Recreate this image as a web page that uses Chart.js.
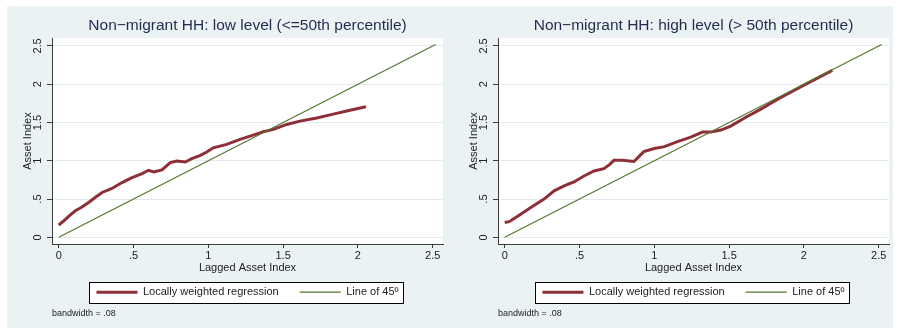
<!DOCTYPE html>
<html>
<head>
<meta charset="utf-8">
<script src="https://cdn.jsdelivr.net/npm/chart.js@4.4.1/dist/chart.umd.min.js"></script>
<style>
  html, body { margin: 0; padding: 0; background: #ffffff; overflow: hidden; }
  #bg { position: absolute; left: 7px; top: 6px; width: 886px; height: 322px; background: #eaf2f3; }
  canvas { position: absolute; top: 0; }
</style>
</head>
<body>
<div id="bg"></div>
<canvas id="lowChart" width="449" height="329" style="left:0px"></canvas>
<canvas id="highChart" width="449" height="329" style="left:446px"></canvas>
<script>
// tick values shared by both axes
const TICKS = [0, 0.5, 1, 1.5, 2, 2.5];
const TICK_LABELS = ["0", ".5", "1", "1.5", "2", "2.5"];

// reference line of 45 degrees
const LINE45_X = [0, 2.52];
const LINE45_Y = [0, 2.52];

// lowess curve, low level households
const LOW_X = [0, 0.03, 0.07, 0.111, 0.15, 0.2, 0.25, 0.29, 0.356, 0.423, 0.49, 0.557, 0.6, 0.635, 0.69, 0.746, 0.79, 0.846, 0.89, 0.947, 0.99, 1.033, 1.123, 1.212, 1.3, 1.368, 1.435, 1.524, 1.613, 1.725, 1.835, 1.947, 2.054];
const LOW_Y = [0.16, 0.21, 0.28, 0.347, 0.39, 0.455, 0.53, 0.586, 0.638, 0.716, 0.78, 0.833, 0.876, 0.854, 0.88, 0.976, 0.997, 0.984, 1.028, 1.07, 1.115, 1.17, 1.215, 1.28, 1.336, 1.38, 1.41, 1.475, 1.518, 1.56, 1.61, 1.66, 1.705];

// lowess curve, high level households
const HIGH_X = [0, 0.03, 0.107, 0.174, 0.263, 0.33, 0.397, 0.463, 0.53, 0.597, 0.663, 0.7, 0.73, 0.786, 0.864, 0.93, 1.0, 1.067, 1.155, 1.244, 1.322, 1.378, 1.445, 1.511, 1.6, 1.712, 1.822, 1.934, 2.045, 2.19];
const HIGH_Y = [0.195, 0.205, 0.303, 0.39, 0.499, 0.607, 0.672, 0.724, 0.802, 0.867, 0.898, 0.95, 1.006, 1.006, 0.99, 1.12, 1.16, 1.185, 1.25, 1.31, 1.375, 1.375, 1.401, 1.453, 1.555, 1.675, 1.8, 1.92, 2.035, 2.18];

const RED = "#8e2f37";
const GREEN = "#55752f";
const GRID = "#e3ebee";
const AXIS = "#3c3c3c";
const TEXT = "#222222";
const TITLE = "#1e2d4e";

Chart.defaults.font.family = "'Liberation Sans', Arial, sans-serif";

function toPoints(xs, ys) {
    return xs.map((x, i) => ({ x: x, y: ys[i] }));
}

// white plot region + boxed legend, like Stata
const stataFrame = {
    id: "stataFrame",
    beforeDraw(chart) {
        const { ctx, chartArea: a, legend } = chart;
        ctx.save();
        ctx.fillStyle = "#ffffff";
        ctx.fillRect(a.left, a.top, a.right - a.left, a.bottom - a.top);
        const boxes = legend.legendHitBoxes;
        if (boxes && boxes.length) {
            const first = boxes[0];
            const last = boxes[boxes.length - 1];
            const x0 = Math.round(first.left - 7) + 0.5;
            const x1 = Math.round(last.left + last.width + 4) + 0.5;
            const y0 = Math.round(first.top - 5) + 0.5;
            const y1 = Math.round(first.top + first.height + 5) + 0.5;
            ctx.fillRect(x0, y0, x1 - x0, y1 - y0);
            ctx.strokeStyle = "#000000";
            ctx.lineWidth = 1;
            ctx.strokeRect(x0, y0, x1 - x0, y1 - y0);
        }
        ctx.restore();
    },
};

function createPanel(canvasId, titleText, curveX, curveY) {
    const ctx = document.getElementById(canvasId).getContext("2d");
    return new Chart(ctx, {
        type: "line",
        data: {
            datasets: [
                {
                    label: "Locally weighted regression",
                    data: toPoints(curveX, curveY),
                    borderColor: RED,
                    backgroundColor: RED,
                    borderWidth: 3,
                    pointRadius: 0,
                    pointStyle: "line",
                    pointBorderWidth: 3,
                    tension: 0,
                    order: 2,
                },
                {
                    label: "Line of 45º",
                    data: toPoints(LINE45_X, LINE45_Y),
                    borderColor: GREEN,
                    backgroundColor: GREEN,
                    borderWidth: 1.2,
                    pointRadius: 0,
                    pointStyle: "line",
                    pointBorderWidth: 1.2,
                    order: 1,
                },
            ],
        },
        options: {
            responsive: false,
            animation: false,
            events: [],
            layout: { padding: { left: 0, right: 6, top: 6, bottom: 10.5 } },
            scales: {
                x: {
                    type: "linear",
                    min: -0.045,
                    max: 2.569,
                    afterBuildTicks: (s) => { s.ticks = TICKS.map((v) => ({ value: v })); },
                    afterFit: (s) => { s.height = 21.7; },
                    ticks: {
                        callback: (v, i) => TICK_LABELS[i],
                        font: { size: 11 },
                        color: TEXT,
                        padding: 1,
                        maxRotation: 0,
                    },
                    grid: { drawOnChartArea: false, tickLength: 4, tickColor: AXIS },
                    border: { color: AXIS },
                    title: {
                        display: true,
                        text: "Lagged Asset Index",
                        font: { size: 11 },
                        color: TEXT,
                        padding: { top: 0, bottom: -9.2 },
                    },
                },
                y: {
                    type: "linear",
                    min: -0.087,
                    max: 2.604,
                    afterBuildTicks: (s) => { s.ticks = TICKS.map((v) => ({ value: v })); },
                    afterFit: (s) => { s.width = 52; },
                    ticks: {
                        callback: (v, i) => TICK_LABELS[i],
                        font: { size: 11 },
                        color: TEXT,
                        padding: 1.6,
                        minRotation: 90,
                        maxRotation: 90,
                        crossAlign: "center",
                    },
                    grid: { color: GRID, tickLength: 5, tickColor: AXIS },
                    border: { color: AXIS },
                    title: {
                        display: true,
                        text: "Asset Index",
                        font: { size: 11 },
                        color: TEXT,
                        padding: { top: 20.9, bottom: 0 },
                    },
                },
            },
            plugins: {
                title: {
                    display: true,
                    text: titleText,
                    fullSize: false,
                    font: { size: 15.5, weight: "normal" },
                    color: TITLE,
                    padding: { top: 10.7, bottom: 2.7 },
                },
                subtitle: {
                    display: true,
                    text: "bandwidth = .08",
                    position: "bottom",
                    align: "start",
                    fullSize: false,
                    font: { size: 9 },
                    color: TEXT,
                    padding: { top: 0, bottom: 0 },
                },
                legend: {
                    position: "bottom",
                    fullSize: false,
                    labels: {
                        usePointStyle: true,
                        pointStyleWidth: 41,
                        padding: 21,
                        font: { size: 11 },
                        color: TEXT,
                        sort: (a, b) => a.datasetIndex - b.datasetIndex,
                    },
                },
                tooltip: { enabled: false },
            },
        },
        plugins: [stataFrame],
    });
}

createPanel("lowChart", "Non\u2212migrant HH: low level (<=50th percentile)", LOW_X, LOW_Y);
createPanel("highChart", "Non\u2212migrant HH: high level (> 50th percentile)", HIGH_X, HIGH_Y);
</script>
</body>
</html>
